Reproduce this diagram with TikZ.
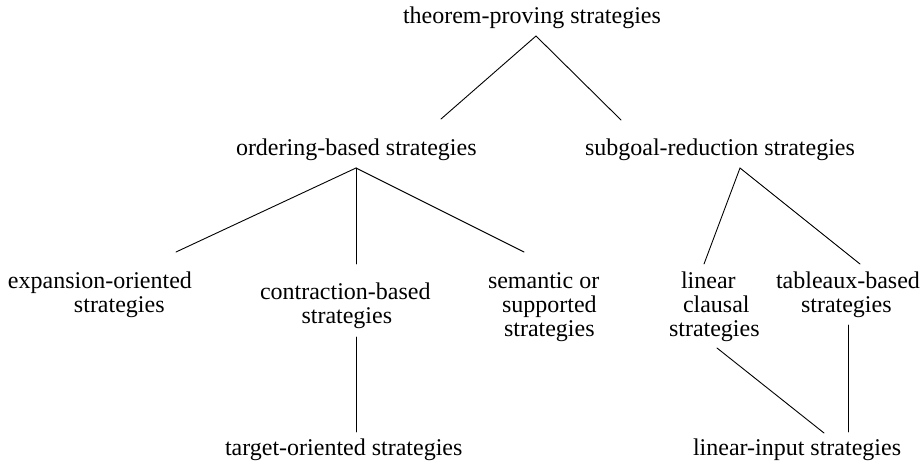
\documentclass[tikz,border=0pt]{standalone}
\usepackage{fontspec}
\setmainfont{Liberation Serif}
\begin{document}
\begin{tikzpicture}[x=1pt,y=-1pt,
  lbl/.style={anchor=base west,inner sep=0pt,outer sep=0pt,font=\fontsize{24}{24}\selectfont},
  edge/.style={line width=0.9pt,line cap=round}]
\useasboundingbox (0,0) rectangle (920,463);
% labels
\node[lbl] (tp) at (403,23) {theorem-proving strategies};
\node[lbl] (ob) at (236,155) {ordering-based strategies};
\node[lbl] (sr) at (585,155) {subgoal-reduction strategies};
\node[lbl] (eo) at (8,288) {\begin{tabular}[t]{@{}l@{}}expansion-oriented\\\hspace*{66pt}strategies\end{tabular}};
\node[lbl] (cb) at (260,299) {\begin{tabular}[t]{@{}l@{}}contraction-based\\\hspace*{41.5pt}strategies\end{tabular}};
\node[lbl] (ss) at (488,288) {\begin{tabular}[t]{@{}l@{}}semantic or\\\hspace*{14pt}supported\\\hspace*{16pt}strategies\end{tabular}};
\node[lbl] (lc) at (669,288) {\begin{tabular}[t]{@{}l@{}}\hspace*{12pt}linear\\\hspace*{14pt}clausal\\strategies\end{tabular}};
\node[lbl] (tb) at (776,288) {\begin{tabular}[t]{@{}l@{}}tableaux-based\\\hspace*{25pt}strategies\end{tabular}};
\node[lbl] (to) at (225,455) {target-oriented strategies};
\node[lbl] (li) at (693,455) {linear-input strategies};
% connector ends
\coordinate (tp-s) at (536,36);
\coordinate (ob-n) at (441,119);
\coordinate (sr-n) at (621,120);
\coordinate (ob-s) at (356,168);
\coordinate (eo-n) at (176,252);
\coordinate (cb-n) at (356,264);
\coordinate (ss-n) at (524,252);
\coordinate (sr-s) at (740,168);
\coordinate (lc-n) at (704,264);
\coordinate (tb-n) at (860,264);
\coordinate (cb-s) at (356,337);
\coordinate (to-n) at (356,432);
\coordinate (lc-s) at (717,348);
\coordinate (li-n1) at (824,433);
\coordinate (tb-s) at (848,325);
\coordinate (li-n2) at (848,432);
% connectors
\draw[edge] (ob-n) -- (tp-s) -- (sr-n);
\draw[edge] (ob-s) -- (eo-n);
\draw[edge] (ob-s) -- (cb-n);
\draw[edge] (ob-s) -- (ss-n);
\draw[edge] (lc-n) -- (sr-s) -- (tb-n);
\draw[edge] (cb-s) -- (to-n);
\draw[edge] (lc-s) -- (li-n1);
\draw[edge] (tb-s) -- (li-n2);
\end{tikzpicture}
\end{document}
